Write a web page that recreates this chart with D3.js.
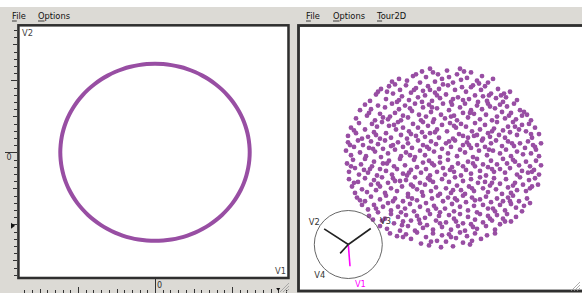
<!DOCTYPE html>
<html>
<head>
<meta charset="utf-8">
<script src="https://cdn.jsdelivr.net/npm/d3@7"></script>
<style>
  body { margin: 0; background: #fff; }
  svg { display: block; font-family: 'DejaVu Sans', sans-serif; }
</style>
</head>
<body>
<div id="chart"></div>
<script>
// menu labels of the two ggobi windows
const menuLeft = ['File', 'Options'];
const menuRight = ['File', 'Options', 'Tour2D'];

// left window: V1 vs V2 scatterplot, points lie on a ring (ruler units)
const ringV1 = [1.230, 1.225, 1.211, 1.188, 1.156, 1.115, 1.065, 1.008, .942, .870, .791, .706, .615, .520, .421, .318, .214, .107,
  0, -.107, -.214, -.318, -.421, -.520, -.615, -.706, -.791, -.870, -.942, -1.008, -1.065, -1.115, -1.156, -1.188, -1.211, -1.225,
  -1.230, -1.225, -1.211, -1.188, -1.156, -1.115, -1.065, -1.008, -.942, -.870, -.791, -.706, -.615, -.520, -.421, -.318, -.214, -.107,
  0, .107, .214, .318, .421, .520, .615, .706, .791, .870, .942, 1.008, 1.065, 1.115, 1.156, 1.188, 1.211, 1.225];
const ringV2 = [0, .107, .214, .318, .421, .520, .615, .706, .791, .870, .942, 1.008, 1.065, 1.115, 1.156, 1.188, 1.211, 1.225,
  1.230, 1.225, 1.211, 1.188, 1.156, 1.115, 1.065, 1.008, .942, .870, .791, .706, .615, .520, .421, .318, .214, .107,
  0, -.107, -.214, -.318, -.421, -.520, -.615, -.706, -.791, -.870, -.942, -1.008, -1.065, -1.115, -1.156, -1.188, -1.211, -1.225,
  -1.230, -1.225, -1.211, -1.188, -1.156, -1.115, -1.065, -1.008, -.942, -.870, -.791, -.706, -.615, -.520, -.421, -.318, -.214, -.107];
const rulerZeroLabel = '0';
const pointerV2 = -1.02;
const pointerV1 = 1.6;

// right window: 2D tour projection (projected coordinates)
const tourPoints = [
  [-.52,.83],[-.45,.86],[-.37,.84],[-.31,.89],[-.24,.82],[-.22,.94],[-.18,.88],[-.14,.97],[-.09,.83],[-.06,.91],[-.02,.86],[-.11,.93],
  [.03,.95],[.05,.88],[.09,.82],[.13,.91],[.17,.85],[.16,.97],[.23,.87],[.27,.93],[.33,.84],[.38,.89],[.44,.82],[.49,.86],
  [-.74,.62],[-.68,.69],[-.63,.75],[-.58,.64],[-.55,.78],[-.51,.70],[-.47,.61],[-.44,.74],[-.42,.67],[-.57,.72],
  [-.38,.79],[-.35,.63],[-.33,.71],[-.28,.76],[-.26,.66],[-.22,.61],[-.21,.73],[-.19,.68],[-.16,.78],[-.12,.62],[-.09,.71],[-.05,.75],[-.04,.65],[-.14,.74],
  [.02,.69],[.04,.79],[.07,.61],[.11,.74],[.14,.66],[.18,.77],[.19,.63],[.22,.72],[.25,.64],[.29,.79],[.31,.68],[.34,.61],[.37,.74],[.39,.67],
  [.41,.78],[.43,.62],[.47,.70],[.52,.65],[.54,.75],[.57,.68],[.59,.61],[.62,.66],[.66,.72],[.73,.63],
  [-.88,.43],[-.84,.52],[-.79,.58],[-.77,.46],[-.73,.53],[-.69,.41],[-.66,.57],[-.64,.48],[-.61,.44],
  [-.59,.55],[-.56,.42],[-.52,.59],[-.49,.49],[-.45,.53],[-.43,.41],[-.41,.46],[-.39,.57],[-.36,.44],[-.32,.51],[-.29,.59],[-.25,.47],[-.23,.41],[-.21,.55],
  [-.18,.45],[-.15,.58],[-.13,.50],[-.10,.42],[-.07,.54],[-.03,.47],[-.01,.59],[.01,.43],[.05,.52],[.08,.58],[.10,.46],[.13,.41],[.16,.55],[.19,.49],
  [.21,.59],[.24,.44],[.27,.52],[.30,.48],[.33,.57],[.36,.42],[.38,.53],[.42,.47],[.44,.59],[.48,.41],[.51,.54],[.53,.45],[.56,.58],[.58,.50],
  [.61,.43],[.63,.56],[.67,.49],[.70,.59],[.72,.42],[.76,.52],[.78,.46],[.83,.47],[.87,.41],
  [-.96,.24],[-.93,.33],[-.88,.27],[-.85,.38],[-.82,.21],[-.79,.31],[-.76,.23],[-.72,.37],[-.70,.28],[-.67,.34],[-.64,.21],[-.62,.39],
  [-.58,.27],[-.55,.35],[-.53,.22],[-.48,.31],[-.46,.39],[-.43,.25],[-.41,.33],[-.37,.21],[-.35,.29],[-.31,.37],[-.28,.24],[-.26,.33],[-.22,.28],[-.21,.39],
  [-.19,.23],[-.16,.35],[-.14,.27],[-.11,.39],[-.07,.31],[-.05,.22],[-.02,.36],[.03,.29],[.06,.38],[.09,.21],[.12,.33],[.15,.26],[.17,.37],[.19,.24],
  [.22,.34],[.24,.22],[.28,.29],[.31,.38],[.33,.25],[.36,.31],[.39,.21],[.41,.36],[.44,.27],[.46,.23],[.50,.32],[.53,.39],[.55,.25],[.59,.30],
  [.61,.22],[.64,.34],[.66,.28],[.69,.39],[.73,.25],[.75,.31],[.78,.36],[.82,.29],[.85,.37],[.88,.22],[.91,.33],[.95,.26],
  [-.98,.08],[-.96,.17],[-.93,.03],[-.90,.12],[-.86,.19],[-.84,.06],[-.81,.14],[-.78,.02],[-.75,.11],[-.73,.18],[-.69,.07],[-.66,.15],[-.63,.01],[-.61,.10],
  [-.59,.19],[-.56,.05],[-.53,.13],[-.49,.09],[-.46,.17],[-.43,.02],[-.41,.12],[-.38,.06],[-.36,.16],[-.32,.11],[-.29,.01],[-.26,.19],[-.24,.08],[-.21,.14],
  [-.19,.03],[-.17,.12],[-.13,.18],[-.10,.07],[-.08,.15],[-.04,.01],[-.02,.10],[.02,.16],[.04,.05],[.07,.12],[.11,.19],[.13,.02],[.16,.09],[.19,.14],
  [.21,.06],[.23,.17],[.27,.11],[.29,.01],[.33,.14],[.35,.08],[.38,.19],[.41,.12],[.43,.03],[.47,.16],[.49,.08],[.52,.19],[.56,.05],[.58,.13],
  [.62,.09],[.64,.18],[.67,.02],[.70,.13],[.73,.07],[.76,.16],[.79,.04],[.81,.11],[.84,.18],[.87,.05],[.89,.14],[.92,.09],[.95,.02],[.97,.16],
  [-.97,-.06],[-.95,-.15],[-.91,-.02],[-.89,-.11],[-.85,-.18],[-.83,-.07],[-.80,-.13],[-.79,-.01],[-.76,-.16],[-.72,-.09],[-.70,-.04],[-.67,-.19],[-.64,-.12],[-.61,-.06],
  [-.58,-.14],[-.55,-.03],[-.52,-.18],[-.50,-.09],[-.47,-.12],[-.44,-.01],[-.41,-.17],[-.39,-.08],[-.37,-.19],[-.33,-.13],[-.30,-.02],[-.27,-.10],[-.23,-.16],[-.21,-.05],
  [-.18,-.12],[-.15,-.03],[-.14,-.19],[-.10,-.08],[-.07,-.15],[-.04,-.05],[-.01,-.11],[.01,-.18],[.04,-.02],[.08,-.10],[.10,-.15],[.14,-.06],[.17,-.19],[.19,-.09],
  [.22,-.13],[.24,-.04],[.27,-.17],[.31,-.09],[.33,-.01],[.36,-.14],[.39,-.07],[.42,-.19],[.44,-.10],[.47,-.03],[.50,-.15],[.53,-.07],[.56,-.12],[.59,-.01],
  [.61,-.16],[.63,-.06],[.66,-.11],[.69,-.02],[.73,-.18],[.75,-.08],[.78,-.14],[.82,-.04],[.84,-.16],[.86,-.09],[.90,-.13],[.92,-.03],[.95,-.18],[.97,-.08],
  [-.95,-.23],[-.92,-.31],[-.89,-.38],[-.86,-.26],[-.82,-.34],[-.79,-.22],[-.77,-.37],[-.73,-.29],[-.70,-.24],[-.68,-.35],[-.64,-.31],[-.62,-.21],
  [-.59,-.38],[-.56,-.27],[-.53,-.33],[-.51,-.22],[-.47,-.36],[-.44,-.25],[-.42,-.31],[-.38,-.24],[-.36,-.39],[-.33,-.29],[-.29,-.21],[-.27,-.34],[-.24,-.27],[-.22,-.37],
  [-.19,-.29],[-.16,-.22],[-.13,-.36],[-.11,-.26],[-.08,-.32],[-.04,-.39],[-.02,-.23],[.02,-.33],[.05,-.26],[.07,-.38],[.11,-.21],[.13,-.30],[.17,-.35],[.19,-.25],
  [.21,-.39],[.25,-.31],[.27,-.23],[.30,-.36],[.34,-.27],[.36,-.21],[.39,-.33],[.41,-.26],[.44,-.37],[.46,-.30],[.50,-.22],[.52,-.34],[.56,-.28],[.58,-.39],
  [.62,-.23],[.64,-.32],[.67,-.38],[.71,-.27],[.73,-.35],[.76,-.21],[.79,-.29],[.82,-.36],[.85,-.24],[.88,-.31],[.91,-.22],[.94,-.29],
  [-.87,-.43],[-.82,-.51],[-.79,-.47],[-.76,-.56],[-.73,-.42],[-.70,-.51],[-.66,-.59],[-.64,-.45],[-.61,-.53],
  [-.58,-.41],[-.56,-.49],[-.53,-.57],[-.49,-.44],[-.46,-.53],[-.43,-.59],[-.41,-.47],[-.39,-.55],[-.36,-.42],[-.34,-.50],[-.30,-.58],[-.27,-.46],[-.24,-.53],[-.21,-.41],
  [-.18,-.49],[-.16,-.57],[-.12,-.44],[-.10,-.52],[-.06,-.41],[-.04,-.59],[-.01,-.47],[.01,-.55],[.04,-.43],[.08,-.50],[.10,-.58],[.13,-.46],[.16,-.53],[.19,-.41],
  [.22,-.48],[.24,-.57],[.28,-.43],[.30,-.52],[.33,-.59],[.36,-.45],[.39,-.51],[.42,-.42],[.44,-.55],[.47,-.48],[.51,-.58],[.53,-.44],[.56,-.51],[.59,-.47],
  [.61,-.57],[.64,-.43],[.67,-.50],[.69,-.41],[.72,-.54],[.75,-.47],[.78,-.58],[.83,-.44],[.86,-.49],
  [-.75,-.63],[-.71,-.67],[-.64,-.74],[-.59,-.66],[-.57,-.77],[-.53,-.61],[-.50,-.71],[-.46,-.64],[-.44,-.79],[-.41,-.69],
  [-.38,-.62],[-.36,-.74],[-.33,-.68],[-.29,-.79],[-.27,-.63],[-.24,-.71],[-.21,-.76],[-.19,-.65],[-.17,-.73],[-.14,-.61],[-.11,-.78],[-.08,-.68],[-.05,-.63],[-.02,-.75],
  [.02,-.70],[.05,-.62],[.07,-.78],[.10,-.66],[.14,-.74],[.16,-.61],[.19,-.71],[.21,-.79],[.24,-.64],[.27,-.72],[.31,-.67],[.33,-.77],[.36,-.61],[.39,-.70],
  [.42,-.74],[.44,-.63],[.48,-.68],[.51,-.78],[.53,-.62],[.56,-.72],[.59,-.66],[.63,-.61],[.67,-.69],[.72,-.64],
  [-.54,-.82],[-.47,-.85],[-.38,-.83],[-.33,-.88],[-.27,-.81],[-.23,-.93],[-.18,-.86],[-.15,-.95],[-.11,-.82],[-.07,-.90],[-.03,-.97],[-.02,-.84],
  [.02,-.91],[.05,-.83],[.09,-.96],[.12,-.87],[.16,-.81],[.19,-.92],[.23,-.85],[.26,-.94],[.31,-.82],[.37,-.88],[.43,-.84],[.51,-.82],
  [-.49,.80],[-.28,.91],[-.01,.80],[.20,.94],[.35,.81],
  [-.66,.72],[-.45,.63],[-.30,.74],[-.07,.68],[.09,.64],[.27,.77],[.45,.68],[.60,.70],
  [-.75,.49],[-.54,.45],[-.34,.54],[-.12,.55],[.07,.45],[.26,.49],[.46,.56],[.65,.46],[.80,.50],
  [-.90,.30],[-.68,.25],[-.50,.36],[-.33,.26],[-.09,.28],[.10,.35],[.30,.24],[.48,.29],[.71,.34],[.87,.26],
  [-.94,.14],[-.71,.10],[-.51,.14],[-.34,.03],[-.15,.10],[.05,.18],[.25,.14],[.45,.09],[.68,.16],[.91,.12],
  [-.93,-.09],[-.74,-.12],[-.57,-.06],[-.35,-.16],[-.12,-.06],[.06,-.13],[.29,-.06],[.48,-.12],[.71,-.04],[.88,-.15],
  [-.90,-.27],[-.66,-.28],[-.49,-.25],[-.31,-.31],[-.14,-.24],[.09,-.35],[.28,-.33],[.48,-.27],[.69,-.30],[.86,-.33],
  [-.84,-.46],[-.68,-.55],[-.51,-.47],[-.32,-.44],[-.08,-.55],[.11,-.44],[.31,-.46],[.49,-.55],[.66,-.47],[.80,-.52],
  [-.62,-.68],[-.42,-.73],[-.25,-.67],[-.04,-.71],[.12,-.69],[.29,-.75],[.46,-.66],[.61,-.69],
  [-.41,-.86],[-.13,-.91],[.07,-.86],[.28,-.90]
];

// tour axes (projection coefficients of each variable)
const axisNames = ['V1', 'V2', 'V3', 'V4'];
const axisX = [0.05, -0.71, 0.66, -0.24];
const axisY = [-0.64, 0.46, 0.47, -0.26];
const axisColors = ['#ff00ff', '#222', '#222', '#222'];

const W = 582, H = 293;
const purple = '#984ea3';
const chrome = '#dcdad5';
const frame = '#2f2f2f';

const svg = d3.select('#chart').append('svg').attr('width', W).attr('height', H);

// window chrome
svg.append('rect').attr('x', 0).attr('y', 7).attr('width', W).attr('height', H - 7).attr('fill', chrome);

// menu bars
const drawMenu = (items, xs) => {
  items.forEach((label, i) => {
    svg.append('text').attr('x', xs[i]).attr('y', 19.3)
      .attr('font-size', 8.3).attr('fill', '#111').text(label);
    const first = label[0];
    const w = first === 'F' ? 4.8 : first === 'O' ? 6.5 : 5.1;
    svg.append('line').attr('x1', xs[i]).attr('x2', xs[i] + w)
      .attr('y1', 21).attr('y2', 21).attr('stroke', '#111').attr('stroke-width', 0.8);
  });
};
drawMenu(menuLeft, [12, 38]);
drawMenu(menuRight, [306, 333, 377]);

// ---- left window ----
const left = { x0: 19.6, x1: 287.3, y0: 26.5, y1: 276.8 };
const xL = d3.scaleLinear().domain([-1, 1]).range([78, 232]);
const yL = d3.scaleLinear().domain([-1, 1]).range([224.3, 80.3]);

svg.append('rect').attr('x', left.x0).attr('y', left.y0)
  .attr('width', left.x1 - left.x0).attr('height', left.y1 - left.y0).attr('fill', '#fff');

// rulers
const rulerTicks = d3.range(-17, 18).map((i) => i / 10);
const tickLen = (v) => (Math.abs(v) < 1e-9 ? 0 : Math.abs(Math.round(v) - v) < 1e-9 ? 6 : Math.abs(Math.round(v * 2) - v * 2) < 1e-9 ? 4 : 3);

const vRuler = svg.append('g');
rulerTicks.filter((v) => yL(v) > 28 && yL(v) < 276).forEach((v) => {
  const len = tickLen(v);
  vRuler.append('line')
    .attr('x1', v === 0 ? 5 : 17 - len).attr('x2', 17)
    .attr('y1', Math.round(yL(v)) + 0.5).attr('y2', Math.round(yL(v)) + 0.5)
    .attr('stroke', '#333').attr('stroke-width', 1);
});
vRuler.append('text').attr('x', 6.5).attr('y', yL(0) + 7.5)
  .attr('font-size', 8).attr('fill', '#333').text(rulerZeroLabel);
vRuler.append('path')
  .attr('d', `M11,${yL(pointerV2) - 3}L15,${yL(pointerV2)}L11,${yL(pointerV2) + 3}Z`)
  .attr('fill', '#111');

const hRuler = svg.append('g');
rulerTicks.filter((v) => xL(v) > 20 && xL(v) < 286).forEach((v) => {
  const len = tickLen(v);
  hRuler.append('line')
    .attr('x1', Math.round(xL(v)) + 0.5).attr('x2', Math.round(xL(v)) + 0.5)
    .attr('y1', v === 0 ? 279 : 293 - len).attr('y2', 293)
    .attr('stroke', '#333').attr('stroke-width', 1);
});
hRuler.append('text').attr('x', xL(0) + 2).attr('y', 287.5)
  .attr('font-size', 8).attr('fill', '#333').text(rulerZeroLabel);
hRuler.append('path')
  .attr('d', `M${xL(pointerV1) - 2},288L${xL(pointerV1)},291L${xL(pointerV1) + 2},288Z`)
  .attr('fill', '#111');

// ring of points
const ring = ringV1.map((v, i) => [v, ringV2[i]]);
svg.append('path')
  .datum(ring)
  .attr('d', d3.line().x((d) => xL(d[0])).y((d) => yL(d[1])).curve(d3.curveCatmullRomClosed.alpha(0.5)))
  .attr('fill', 'none').attr('stroke', purple).attr('stroke-width', 4);

svg.append('text').attr('x', 22).attr('y', 36).attr('font-size', 8.3).attr('fill', '#444').text('V2');
svg.append('text').attr('x', 286).attr('y', 273.5).attr('text-anchor', 'end')
  .attr('font-size', 8.3).attr('fill', '#444').text('V1');

svg.append('rect').attr('x', 18.4).attr('y', 25.3).attr('width', 270.1).attr('height', 252.7)
  .attr('fill', 'none').attr('stroke', frame).attr('stroke-width', 2.5);

// ---- right window ----
svg.append('rect').attr('x', 300).attr('y', 27).attr('width', 290).attr('height', 263).attr('fill', '#fff');

const xT = d3.scaleLinear().domain([-1, 1]).range([344, 544]);
const yT = d3.scaleLinear().domain([-1, 1]).range([250, 66]);

svg.append('g').selectAll('circle')
  .data(tourPoints)
  .join('circle')
  .attr('cx', (d) => xT(d[0]))
  .attr('cy', (d) => yT(d[1]))
  .attr('r', 2.4)
  .attr('fill', purple);

// axis widget
const ax = { cx: 348.3, cy: 244.5, r: 34 };
svg.append('circle').attr('cx', ax.cx).attr('cy', ax.cy).attr('r', ax.r)
  .attr('fill', 'none').attr('stroke', '#555').attr('stroke-width', 0.9);
axisNames.forEach((name, i) => {
  const dx = axisX[i] * ax.r, dy = -axisY[i] * ax.r;
  svg.append('line').attr('x1', ax.cx).attr('y1', ax.cy)
    .attr('x2', ax.cx + dx).attr('y2', ax.cy + dy)
    .attr('stroke', axisColors[i]).attr('stroke-width', 1.6);
  const len = Math.hypot(axisX[i], axisY[i]);
  const px = ax.cx + (axisX[i] / len) * ax.r;
  const py = ax.cy - (axisY[i] / len) * ax.r;
  svg.append('text')
    .attr('x', axisX[i] > 0 ? px + 4 : px)
    .attr('y', axisY[i] < 0 ? py + 8.5 : py - 1)
    .attr('text-anchor', axisX[i] > 0 ? 'start' : 'end')
    .attr('font-size', 8.3)
    .attr('fill', i === 0 ? '#ff00ff' : '#333')
    .text(name);
});

svg.append('rect').attr('x', 298.5).attr('y', 25.5).attr('width', 300).attr('height', 265.5)
  .attr('fill', 'none').attr('stroke', frame).attr('stroke-width', 2.8);

// resize grips
[[289, 292], [580, 291]].forEach(([gx, gy]) => {
  [3, 6, 9].forEach((k) => {
    svg.append('line').attr('x1', gx - k).attr('y1', gy).attr('x2', gx).attr('y2', gy - k)
      .attr('stroke', '#999').attr('stroke-width', 0.8);
  });
});
</script>
</body>
</html>
